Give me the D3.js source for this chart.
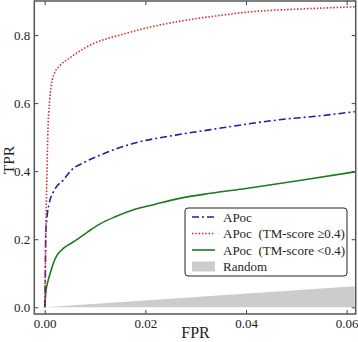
<!DOCTYPE html>
<html>
<head>
<meta charset="utf-8">
<script src="https://cdn.jsdelivr.net/npm/d3@7"></script>
<style>
  body { margin: 0; background: #fff; }
  svg text { font-family: "Liberation Serif", "DejaVu Serif", serif; fill: #222; }
</style>
</head>
<body>
<svg id="chart"></svg>
<script>
// values
const xTicks = [0, 0.02, 0.04, 0.06];
const yTicks = [0, 0.2, 0.4, 0.6, 0.8];

const apocFpr = [0, 0.0001, 0.0002, 0.0004, 0.0009, 0.0019, 0.0037, 0.0053, 0.008, 0.011, 0.0175, 0.026, 0.033, 0.04, 0.0466, 0.055, 0.0616];
const apocTpr = [0, 0.06, 0.207, 0.256, 0.305, 0.344, 0.374, 0.403, 0.427, 0.447, 0.481, 0.506, 0.522, 0.538, 0.551, 0.563, 0.575];

const highFpr = [0, 0.0001, 0.0002, 0.0004, 0.0006, 0.001, 0.0015, 0.002, 0.003, 0.005, 0.0075, 0.01, 0.015, 0.02, 0.027, 0.035, 0.04, 0.05, 0.06, 0.0616];
const highTpr = [0, 0.1, 0.21, 0.36, 0.5, 0.61, 0.667, 0.69, 0.71, 0.733, 0.758, 0.777, 0.8, 0.82, 0.841, 0.858, 0.867, 0.876, 0.882, 0.883];

const lowFpr = [0, 0.0001, 0.0002, 0.0007, 0.0012, 0.0017, 0.0024, 0.0037, 0.005, 0.0063, 0.0085, 0.011, 0.014, 0.0175, 0.022, 0.0268, 0.033, 0.04, 0.05, 0.0616];
const lowTpr = [0, 0.02, 0.041, 0.08, 0.105, 0.129, 0.152, 0.173, 0.186, 0.198, 0.221, 0.245, 0.266, 0.286, 0.303, 0.32, 0.335, 0.349, 0.371, 0.398];

const randomFpr = [0, 0.0616];
const randomTpr = [0, 0.0616];

const legendLabels = ['APoc', 'APoc  (TM-score \u22650.4)', 'APoc  (TM-score <0.4)', 'Random'];

const width = 358, height = 342;
const frame = {left: 34.3, right: 355.7, top: 1, bottom: 314};

const svg = d3.select('#chart')
    .attr('width', width)
    .attr('height', height);

const x = d3.scaleLinear()
    .domain([-0.00207, 0.0618])
    .range([frame.left, frame.right]);

const y = d3.scaleLinear()
    .domain([-0.0197, 0.9])
    .range([frame.bottom, frame.top]);

const zip = (a, b) => a.map((v, i) => [v, b[i]]);

// random region (between diagonal and zero)
const area = d3.area()
    .x(d => x(d[0]))
    .y0(y(0))
    .y1(d => y(d[1]));

svg.append('path')
    .datum(zip(randomFpr, randomTpr))
    .attr('d', area)
    .attr('fill', '#cccccc');

const line = d3.line()
    .curve(d3.curveMonotoneX)
    .x(d => x(d[0]))
    .y(d => y(d[1]));

const series = [
  {fpr: lowFpr, tpr: lowTpr, color: '#1d7a1d', dash: null},
  {fpr: apocFpr, tpr: apocTpr, color: '#1f1fa8', dash: '7,3,2,3'},
  {fpr: highFpr, tpr: highTpr, color: '#e0262b', dash: '1.5,1.8'}
];

series.forEach(s => {
  svg.append('path')
      .datum(zip(s.fpr, s.tpr))
      .attr('d', line)
      .attr('fill', 'none')
      .attr('stroke', s.color)
      .attr('stroke-width', 1.6)
      .attr('stroke-dasharray', s.dash);
});

// axes with inward ticks on all sides
const tickLen = 4;
const bottomAxis = svg.append('g')
    .attr('transform', `translate(0,${frame.bottom})`)
    .call(d3.axisBottom(x).tickValues(xTicks).tickFormat(d3.format('.2f')).tickSizeInner(-tickLen).tickSizeOuter(0).tickPadding(5));
const topAxis = svg.append('g')
    .attr('transform', `translate(0,${frame.top})`)
    .call(d3.axisTop(x).tickValues(xTicks).tickFormat('').tickSizeInner(-tickLen).tickSizeOuter(0));
const leftAxis = svg.append('g')
    .attr('transform', `translate(${frame.left},0)`)
    .call(d3.axisLeft(y).tickValues(yTicks).tickFormat(d3.format('.1f')).tickSizeInner(-tickLen).tickSizeOuter(0).tickPadding(4));
const rightAxis = svg.append('g')
    .attr('transform', `translate(${frame.right},0)`)
    .call(d3.axisRight(y).tickValues(yTicks).tickFormat('').tickSizeInner(-tickLen).tickSizeOuter(0));

[bottomAxis, topAxis, leftAxis, rightAxis].forEach(g => {
  g.select('.domain').remove();
  g.selectAll('.tick line').attr('stroke', '#444').attr('stroke-width', 1);
  g.selectAll('.tick text').style('font-size', '13px').attr('fill', '#222');
});

svg.append('rect')
    .attr('x', frame.left)
    .attr('y', frame.top)
    .attr('width', frame.right - frame.left)
    .attr('height', frame.bottom - frame.top)
    .attr('fill', 'none')
    .attr('stroke', '#555')
    .attr('stroke-width', 1.5);

// axis titles
svg.append('text')
    .attr('x', (frame.left + frame.right) / 2 + 0.5)
    .attr('y', 338)
    .attr('text-anchor', 'middle')
    .style('font-size', '16px')
    .text('FPR');

svg.append('text')
    .attr('transform', `translate(13.5,160) rotate(-90)`)
    .attr('text-anchor', 'middle')
    .style('font-size', '15.5px')
    .text('TPR');

// legend
const legend = svg.append('g').attr('transform', 'translate(185,208)');
legend.append('rect')
    .attr('width', 162)
    .attr('height', 68)
    .attr('rx', 3)
    .attr('fill', '#fff')
    .attr('stroke', '#222')
    .attr('stroke-width', 1);

const legendStyles = [series[1], series[2], series[0]];
legendLabels.forEach((label, i) => {
  const ly = 9 + i * 16.5;
  if (i < 3) {
    legend.append('line')
        .attr('x1', 7).attr('x2', 30)
        .attr('y1', ly).attr('y2', ly)
        .attr('stroke', legendStyles[i].color)
        .attr('stroke-width', 1.6)
        .attr('stroke-dasharray', legendStyles[i].dash);
  } else {
    legend.append('rect')
        .attr('x', 7).attr('y', ly - 5)
        .attr('width', 23).attr('height', 10)
        .attr('fill', '#cccccc');
  }
  legend.append('text')
      .attr('x', 38)
      .attr('y', ly + 4.5)
      .style('font-size', '13px')
      .style('white-space', 'pre')
      .text(label);
});
</script>
</body>
</html>
